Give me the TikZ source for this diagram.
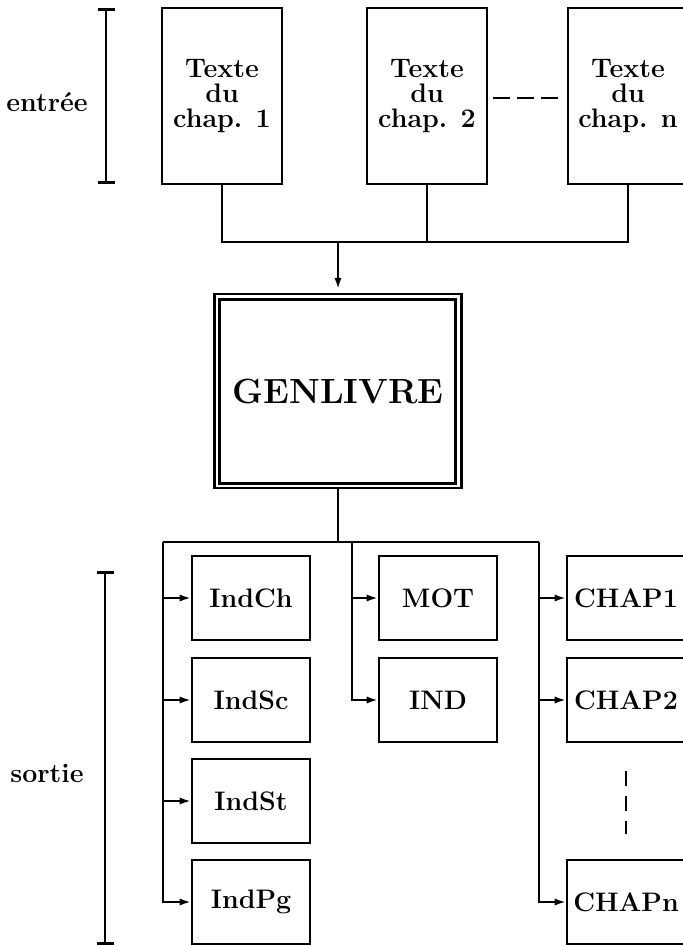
\documentclass[tikz,border=0pt]{standalone}
\usetikzlibrary{arrows.meta}
\begin{document}
\begin{tikzpicture}[x=0.5pt,y=-0.5pt,
  txtfont/.style={font=\bfseries\fontsize{13.4}{12.5}\selectfont},
  box/.style={draw, line width=1.3pt, inner sep=0pt, align=center, txtfont},
  topbox/.style={box, minimum width=60pt, minimum height=88pt},
  outbox/.style={box, minimum width=59pt, minimum height=42pt},
  conn/.style={line width=1pt},
  arr/.style={conn, -{Latex[length=5.5pt,width=3.6pt]}},
  lbl/.style={txtfont, inner sep=0pt},
  brk/.style={line width=1.1pt},
  brkcap/.style={line width=1.5pt},
  dots/.style={line width=1pt, dash pattern=on 8.5pt off 3.5pt},
  vdots/.style={line width=0.8pt, dash pattern=on 7.5pt off 5pt}]
\useasboundingbox (0,0) rectangle (683,945);
\clip (0,0) rectangle (683,945);
% brackets and side labels
\coordinate (e1) at (106,10); \coordinate (e2) at (106,183);
\draw[brk] (e1) -- (e2);
\draw[brkcap] ([xshift=-4.25pt]e1) -- ([xshift=4.25pt]e1);
\draw[brkcap] ([xshift=-4.25pt]e2) -- ([xshift=4.25pt]e2);
\node[lbl] (ent) at (47,102) {entrée};
\coordinate (s1) at (105,572); \coordinate (s2) at (105,943);
\draw[brk] (s1) -- (s2);
\draw[brkcap] ([xshift=-4.25pt]s1) -- ([xshift=4.25pt]s1);
\draw[brkcap] ([xshift=-4.25pt]s2) -- ([xshift=4.25pt]s2);
\node[lbl] (sor) at (47,773) {sortie};
% input boxes
\node[topbox] (b1) at (222,96) {Texte\\du\\chap. 1};
\node[topbox] (b2) at (427,96) {Texte\\du\\chap. 2};
\node[topbox] (b3) at (628,96) {Texte\\du\\chap. n};
\coordinate (d1) at (493,98); \coordinate (d2) at (558,98);
\draw[dots] (d1) -- (d2);
% merge to GENLIVRE
\coordinate (ht) at (338,242);
\draw[conn] (b1.south) |- (ht) -| (b3.south);
\draw[conn] (b2.south) -- (b2.south |- ht);
\node[draw, line width=1.1pt, inner sep=0pt, minimum width=123.5pt, minimum height=97pt,
      font=\bfseries\fontsize{17.5}{19}\selectfont] (gen) at (338,391) {GENLIVRE};
\draw[line width=1.5pt] ([xshift=3pt,yshift=-3.5pt]gen.north west) rectangle ([xshift=-3.5pt,yshift=3pt]gen.south east);
\draw[arr] (ht) -- ([yshift=2pt]gen.north);
% output boxes
\node[outbox] (indch) at (251,598) {IndCh};
\node[outbox] (indsc) at (251,700) {IndSc};
\node[outbox] (indst) at (251,801) {IndSt};
\node[outbox] (indpg) at (251,902) {IndPg};
\node[outbox] (mot) at (438,598) {MOT};
\node[outbox] (ind) at (438,700) {IND};
\node[outbox] (chap1) at (626,598) {CHAP1};
\node[outbox] (chap2) at (626,700) {CHAP2};
\node[outbox] (chapn) at (626,902) {CHAPn};
% distribution
\coordinate (hb) at (338,542);
\coordinate (cl) at (163,542); \coordinate (cm) at (352,542); \coordinate (cr) at (539,542);
\draw[conn] (gen.south) -- (hb);
\draw[conn] (cl) -- (cr);
\draw[arr] (cl) |- (indpg.west);
\draw[arr] (cl |- indch.west) -- (indch.west);
\draw[arr] (cl |- indsc.west) -- (indsc.west);
\draw[arr] (cl |- indst.west) -- (indst.west);
\draw[arr] (cm) |- (ind.west);
\draw[arr] (cm |- mot.west) -- (mot.west);
\draw[arr] (cr) |- (chapn.west);
\draw[arr] (cr |- chap1.west) -- (chap1.west);
\draw[arr] (cr |- chap2.west) -- (chap2.west);
\draw[vdots] ([yshift=-14pt]chap2.south) -- ([yshift=12.5pt]chapn.north);
\end{tikzpicture}
\end{document}
